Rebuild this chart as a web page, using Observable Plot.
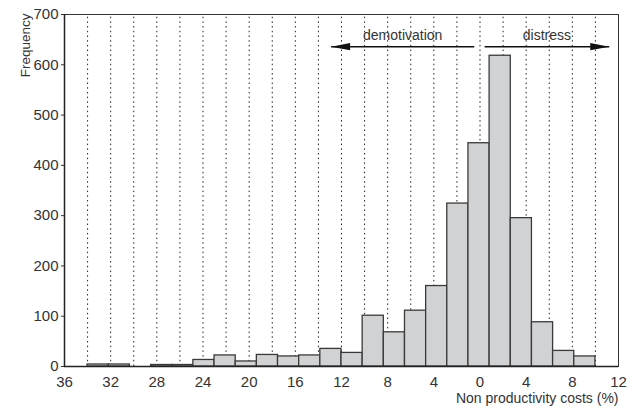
<!DOCTYPE html>
<html>
<head>
<meta charset="utf-8">
<script src="https://cdn.jsdelivr.net/npm/d3@7"></script>
<script src="https://cdn.jsdelivr.net/npm/@observablehq/plot@0.6"></script>
<style>
  body { margin: 0; background: #fff; }
</style>
</head>
<body>
<div id="chart"></div>
<script>
// Histogram counts (24 equal bins spanning -34 .. 10)
const counts = [4, 4, 0, 3, 3, 13, 22, 10, 23, 20, 22, 35, 27, 101, 68, 111, 160, 324, 444, 618, 295, 88, 31, 20];
const binLo = -34;
const binHi = 10;

// Axis ticks and grid positions
const xTicks = [-36, -32, -28, -24, -20, -16, -12, -8, -4, 0, 4, 8, 12];
const yTicks = [0, 100, 200, 300, 400, 500, 600, 700];
const gridX = [-34, -32, -30, -28, -26, -24, -22, -20, -18, -16, -14, -12, -10, -8, -6, -4, -2, 0, 2, 4, 6, 8, 10];

// Annotations
const arrows = [
  {x1: -0.5, x2: -12.9, y: 636},
  {x1: 0.4, x2: 11.2, y: 636}
];
const notes = [
  {label: "demotivation", x: -6.7, y: 658},
  {label: "distress", x: 5.8, y: 658}
];

const w = (binHi - binLo) / counts.length;
const bins = counts.map((c, i) => ({x1: binLo + i * w, x2: binLo + (i + 1) * w, count: c}));

// Filled elongated arrow head pointing in +x, tip at origin
const head = {
  draw(context) {
    context.moveTo(0, 0);
    context.lineTo(-19, -3.6);
    context.lineTo(-19, 3.6);
    context.closePath();
  }
};

const chart = Plot.plot({
  width: 638,
  height: 412,
  marginLeft: 64,
  marginRight: 20,
  marginTop: 14,
  marginBottom: 46,
  style: {fontFamily: "'Liberation Sans', Arial, sans-serif", fontSize: "14px", color: "#333", background: "#fff"},
  x: {domain: [-36, 12]},
  y: {domain: [0, 700]},
  marks: [
    Plot.ruleX(gridX, {y1: 0, y2: 700, stroke: "#222", strokeDasharray: "1.5,3.2", strokeWidth: 1}),
    Plot.rectY(bins, {x1: "x1", x2: "x2", y: "count", fill: "#d1d2d4", stroke: "#3a3a3a", strokeWidth: 1.3}),
    Plot.frame({stroke: "#333", strokeWidth: 1}),
    Plot.ruleY([0], {stroke: "#222", strokeWidth: 1.5}),
    Plot.ruleX([-36], {stroke: "#222", strokeWidth: 1.5}),
    Plot.axisX({ticks: xTicks, tickFormat: d => Math.abs(d), tickSize: 0, tickPadding: 10, label: null, fontSize: 15}),
    Plot.axisY({ticks: yTicks, tickSize: 3, tickPadding: 3, label: null, fontSize: 15}),
    Plot.link(arrows, {x1: "x1", x2: "x2", y1: "y", y2: "y", stroke: "#111", strokeWidth: 1.5}),
    Plot.dot(arrows, {x: "x2", y: "y", symbol: head, r: 3, fill: "#111", stroke: "none", rotate: d => (d.x2 < d.x1 ? 180 : 0)}),
    Plot.text(notes, {x: "x", y: "y", text: "label", fontSize: 14, fill: "#333"}),
    Plot.text(["Frequency"], {frameAnchor: "top-left", dx: -44, dy: -1, rotate: -90, textAnchor: "end", fontSize: 13.5, fill: "#333"}),
    Plot.text(["Non productivity costs (%)"], {frameAnchor: "bottom-right", dy: 36, textAnchor: "end", fontSize: 14, fill: "#333"})
  ]
});
document.getElementById("chart").appendChild(chart);
</script>
</body>
</html>
